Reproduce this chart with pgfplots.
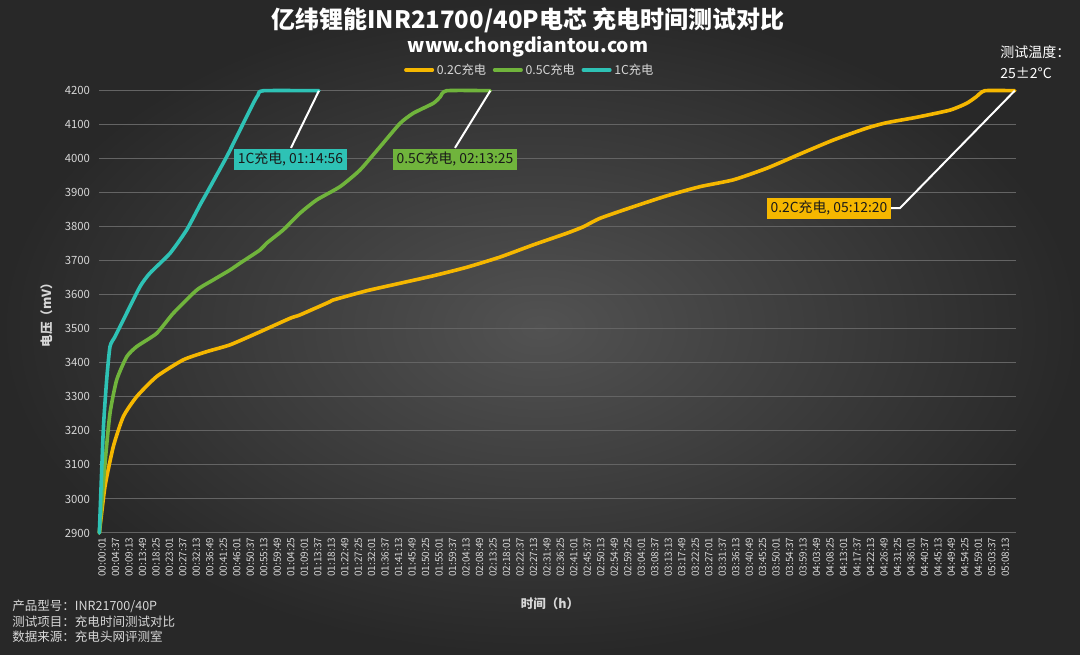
\documentclass[border=0pt]{standalone}
\usepackage{pgfplots}
\pgfplotsset{compat=1.18}
\usepackage{pgfplotstable}
\usepackage{fontspec}
\setmainfont{Noto Sans CJK SC}
\definecolor{yc}{RGB}{245,183,0}
\definecolor{gc}{RGB}{112,180,60}
\definecolor{tc}{RGB}{46,194,181}
\definecolor{gridc}{RGB}{100,100,100}
\definecolor{txt}{RGB}{215,215,215}
\definecolor{boxtxt}{RGB}{25,25,25}

\pgfplotstableread{
t V
1 2900
117 3037
287 3154
491 3242
766 3301
1175 3360
1719 3409
2198 3433
2675 3453
3222 3487
3904 3531
4108 3541
4723 3580
4790 3585
5474 3612
6156 3634
6837 3656
7521 3681
8202 3711
8884 3747
9568 3781
9907 3800
10249 3825
10931 3859
11615 3891
12297 3918
12978 3938
13662 3972
14344 4014
15025 4055
15708 4090
16118 4106
16732 4122
17414 4143
17755 4163
17950 4182
18128 4200
18740 4200
}\dataA

\pgfplotstableread{
t V
1 2900
117 3105
219 3252
356 3350
561 3418
766 3448
1175 3487
1515 3546
1994 3614
2334 3644
2675 3673
2880 3693
3290 3732
3427 3752
3766 3791
4108 3840
4450 3879
4928 3918
5337 3967
5746 4035
6156 4104
6428 4134
6837 4163
6974 4181
7111 4200
8005 4200
}\dataB

\pgfplotstableread{
t V
1 2900
82 3203
151 3350
219 3448
321 3477
491 3526
833 3624
1038 3664
1447 3722
1789 3791
2061 3864
2198 3899
2608 4006
2813 4065
3152 4163
3249 4187
3357 4200
4496 4200
}\dataC

\begin{document}
\begin{tikzpicture}
\shade[inner color={rgb,255:red,82;green,82;blue,82}, outer color={rgb,255:red,40;green,40;blue,40}] (0pt,0pt) rectangle (810pt,491.25pt);

\node[font=\bfseries\fontsize{18}{20}\selectfont, text=white] at (396pt,476.25pt) {亿纬锂能INR21700/40P电芯 充电时间测试对比};
\node[font=\bfseries\fontsize{14.5}{17}\selectfont, text=white] at (396pt,456pt) {www.chongdiantou.com};

\node[font=\fontsize{10.5}{12}\selectfont, text=white, anchor=west, inner sep=0pt] at (750pt,452.25pt) {测试温度：};
\node[font=\fontsize{10.5}{12}\selectfont, text=white, anchor=west, inner sep=0pt] at (750pt,436.5pt) {25±2°C};

\node[font=\fontsize{9.4}{11}\selectfont, text=txt, anchor=west, inner sep=0pt] at (9pt,36.75pt) {产品型号：INR21700/40P};
\node[font=\fontsize{9.4}{11}\selectfont, text=txt, anchor=west, inner sep=0pt] at (9pt,25.25pt) {测试项目：充电时间测试对比};
\node[font=\fontsize{9.4}{11}\selectfont, text=txt, anchor=west, inner sep=0pt] at (9pt,13.5pt) {数据来源：充电头网评测室};

\node[font=\bfseries\fontsize{9.4}{11}\selectfont, text=txt, rotate=90] at (35.25pt,257.25pt) {电压（mV）};
\node[font=\bfseries\fontsize{9.4}{11}\selectfont, text=txt] at (412.5pt,38.25pt) {时间（h）};

\begin{axis}[
  at={(74.475pt,91.5pt)}, anchor=south west,
  width=687.5pt, height=331.7pt, scale only axis,
  xmin=0, xmax=18765, ymin=2900, ymax=4200,
  scaled x ticks=false, scaled y ticks=false,
  ytick={2900,3000,...,4200},
  xtick={1,277,...,18493},
  xticklabels={00:00:01,00:04:37,00:09:13,00:13:49,00:18:25,00:23:01,00:27:37,00:32:13,00:36:49,00:41:25,00:46:01,00:50:37,00:55:13,00:59:49,01:04:25,01:09:01,01:13:37,01:18:13,01:22:49,01:27:25,01:32:01,01:36:37,01:41:13,01:45:49,01:50:25,01:55:01,01:59:37,02:04:13,02:08:49,02:13:25,02:18:01,02:22:37,02:27:13,02:31:49,02:36:25,02:41:01,02:45:37,02:50:13,02:54:49,02:59:25,03:04:01,03:08:37,03:13:13,03:17:49,03:22:25,03:27:01,03:31:37,03:36:13,03:40:49,03:45:25,03:50:01,03:54:37,03:59:13,04:03:49,04:08:25,04:13:01,04:17:37,04:22:13,04:26:49,04:31:25,04:36:01,04:40:37,04:45:13,04:49:49,04:54:25,04:59:01,05:03:37,05:08:13},
  xticklabel style={rotate=90, anchor=east, font=\fontsize{7.5}{8}\selectfont, text=txt, yshift=-2pt},
  yticklabel style={font=\fontsize{8.5}{10}\selectfont, text=txt, xshift=-3.5pt},
  /pgf/number format/assume math mode=true,
  /pgf/number format/1000 sep={},
  ymajorgrids, grid style={draw=gridc, line width=0.75pt},
  axis line style={draw=none},
  major tick length=0pt,
  clip=false,
  legend columns=3,
  legend style={at={(rel axis cs:0.47,1.047)}, anchor=center, draw=none, fill=none,
    font=\fontsize{9.2}{10}\selectfont, text=txt,
    /tikz/every even column/.append style={column sep=3pt}},
  legend image code/.code={\draw[#1, line width=2.6pt] (0cm,0cm) -- (0.7cm,0cm);},
]
\addplot[yc, line width=2.7pt, line join=round, line cap=round, smooth, tension=0.35] table[x=t,y=V] {\dataA};
\addlegendentry{0.2C充电}
\addplot[gc, line width=2.7pt, line join=round, line cap=round, smooth, tension=0.35] table[x=t,y=V] {\dataB};
\addlegendentry{0.5C充电}
\addplot[tc, line width=2.7pt, line join=round, line cap=round, smooth, tension=0.35] table[x=t,y=V] {\dataC};
\addlegendentry{1C充电}

\draw[white, line width=1.5pt] (axis cs:4496,4200) -- (axis cs:3924,4032);
\draw[white, line width=1.5pt] (axis cs:8005,4200) -- (axis cs:7281,4032);
\draw[white, line width=1.5pt] (axis cs:18740,4200) -- (axis cs:16390,3855) -- (axis cs:16200,3855);

\node[fill=tc, text=boxtxt, font=\fontsize{10.4}{12}\selectfont, inner xsep=3pt, inner ysep=2.5pt] at (axis cs:3914,3999) {1C充电, 01:14:56};
\node[fill=gc, text=boxtxt, font=\fontsize{10.4}{12}\selectfont, inner xsep=3pt, inner ysep=2.5pt] at (axis cs:7281,3999) {0.5C充电, 02:13:25};
\node[fill=yc, text=boxtxt, font=\fontsize{10.4}{12}\selectfont, inner xsep=3pt, inner ysep=2.5pt] at (axis cs:14937,3854) {0.2C充电, 05:12:20};
\end{axis}
\end{tikzpicture}
\end{document}
